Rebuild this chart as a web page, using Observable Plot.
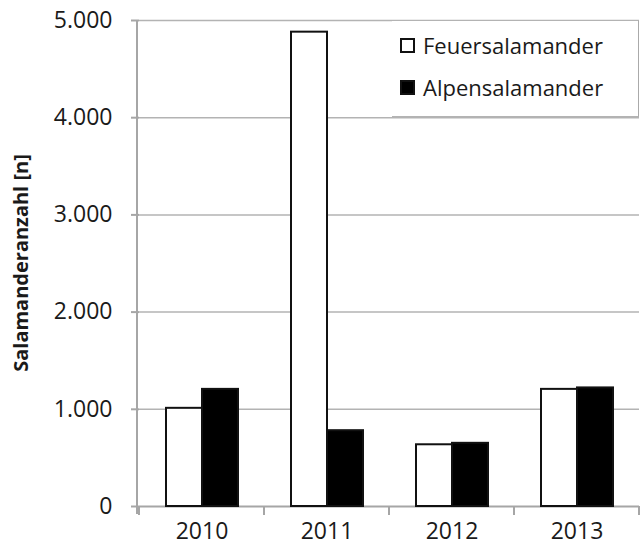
<!DOCTYPE html>
<html>
<head>
<meta charset="utf-8">
<script src="https://cdn.jsdelivr.net/npm/d3@7"></script>
<script src="https://cdn.jsdelivr.net/npm/@observablehq/plot@0.6"></script>
<style>
  html, body { margin: 0; padding: 0; background: #fff; }
  #wrap { position: relative; width: 641px; height: 547px; font-family: "Open Sans", sans-serif; }
  #legend {
    position: absolute; left: 392px; top: 20px; width: 247px; height: 97px;
    background: #fff; border-right: 1.5px solid #aaa; border-top: 1.5px solid #b3b3b3; border-bottom: 1.5px solid #b3b3b3;
    box-sizing: border-box; font-size: 22px; color: #1a1a1a;
  }
  .item { position: absolute; left: 8px; display: flex; align-items: center; }
  .sw { width: 11px; height: 11px; border: 2px solid #111; margin-right: 8px; box-sizing: content-box; }
  svg g[aria-label^="y-axis"] line, svg g[aria-label^="y-axis"] path { stroke: #a6a6a6; stroke-width: 2px; stroke-opacity: 1; }
  svg g[aria-label^="y-axis"] text, svg g[aria-label^="fx-axis"] text { fill: #1a1a1a; }
</style>
</head>
<body>
<div id="wrap"></div>
<script>
const years = ["2010", "2011", "2012", "2013"];
const series = ["Feuersalamander", "Alpensalamander"];
const feuer = [1010, 4880, 635, 1205];
const alpen = [1205, 780, 650, 1220];
const yTicks = [0, 1000, 2000, 3000, 4000, 5000];
const seriesColors = ["white", "black"];

const rows = [];
years.forEach((yr, i) => {
  rows.push({year: yr, series: series[0], value: feuer[i]});
  rows.push({year: yr, series: series[1], value: alpen[i]});
});

const de = d3.formatLocale({decimal: ",", thousands: ".", grouping: [3], currency: ["", "€"]});
const fmt = de.format(",");

const W = 641, H = 547, ML = 137, MR = 1, MT = 20, MB = 41;

const plot = Plot.plot({
  width: W, height: H,
  marginLeft: ML, marginRight: MR, marginTop: MT, marginBottom: MB,
  style: {fontFamily: "Open Sans, sans-serif", fontSize: "23px", color: "#1a1a1a", background: "white"},
  facet: {data: rows, x: "year"},
  fx: {domain: years, padding: 0, label: null, tickSize: 0, tickPadding: 16, axis: "bottom"},
  x: {domain: series, paddingInner: 0, paddingOuter: 0.72, axis: null},
  y: {domain: [0, 5000], ticks: yTicks, tickFormat: fmt, tickSize: 8, tickPadding: 19, label: null},
  color: {domain: series, range: seriesColors},
  marks: [
    Plot.ruleY(yTicks.slice(1), {stroke: "#b3b3b3", strokeWidth: 1.5}),
    Plot.ruleY([0], {stroke: "#a6a6a6", strokeWidth: 2}),
    Plot.barY(rows, {x: "series", y: "value", fill: "series", stroke: "#111", strokeWidth: 2})
  ]
});

const wrap = document.getElementById("wrap");
wrap.appendChild(plot);

// axis decorations computed from Plot's scales
const svg = d3.select(plot);
const ys = plot.scale("y");
const fx = plot.scale("fx");
const y0 = ys.apply(0), yTop = ys.apply(5000);
const g = svg.append("g");
g.append("line").attr("x1", ML).attr("x2", ML).attr("y1", yTop).attr("y2", y0 + 8)
  .attr("stroke", "#a6a6a6").attr("stroke-width", 2);
const bounds = years.map(yr => fx.apply(yr)).concat([fx.apply(years[years.length - 1]) + fx.bandwidth]);
bounds.forEach(bx => {
  g.append("line").attr("x1", bx).attr("x2", bx).attr("y1", y0).attr("y2", y0 + 9)
    .attr("stroke", "#a6a6a6").attr("stroke-width", 2);
});
svg.append("text")
  .attr("transform", `translate(28,${(y0 + yTop) / 2}) rotate(-90)`)
  .attr("text-anchor", "middle")
  .attr("font-weight", "bold")
  .attr("font-size", "20px")
  .attr("fill", "#1a1a1a")
  .text("Salamanderanzahl [n]");

// legend
const legend = document.createElement("div");
legend.id = "legend";
series.forEach((s, i) => {
  const it = document.createElement("div");
  it.className = "item";
  it.style.top = (i === 0 ? 9 : 51) + "px";
  const sw = document.createElement("span");
  sw.className = "sw";
  sw.style.background = seriesColors[i];
  it.appendChild(sw);
  const t = document.createElement("span");
  t.textContent = s;
  it.appendChild(t);
  legend.appendChild(it);
});
wrap.appendChild(legend);
</script>
</body>
</html>
